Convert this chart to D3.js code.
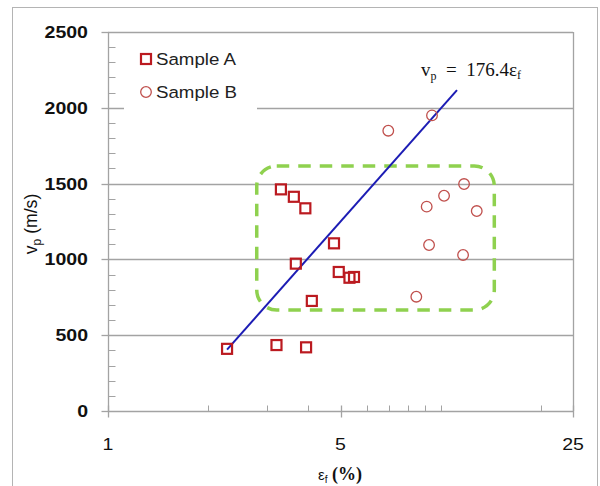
<!DOCTYPE html>
<html>
<head>
<meta charset="utf-8">
<script src="https://cdn.jsdelivr.net/npm/d3@7"></script>
<style>
  html, body { margin: 0; padding: 0; background: #fff; }
  svg { display: block; }
</style>
</head>
<body>
<svg id="chart" width="600" height="486"></svg>
<script>
// Fracture strain (%) versus P-wave velocity (m/s)
const sampleAStrain = [3.31, 3.62, 3.92, 4.78, 3.67, 4.94, 5.32, 5.49, 4.10, 2.28, 3.21, 3.94];
const sampleAVel    = [1462, 1413, 1337, 1106, 972, 917, 879, 884, 726, 410, 435, 420];
const sampleBStrain = [6.96, 9.42, 11.76, 10.24, 9.08, 12.84, 9.23, 11.68, 8.45];
const sampleBVel    = [1849, 1950, 1497, 1420, 1348, 1319, 1095, 1029, 754];

// fitted trend segment (end points)
const fitStrain = [2.28, 11.2];
const fitVel    = [405, 2117];

// highlighted cluster region (data units)
const boxStrain = [2.80, 14.5];
const boxVel    = [666, 1616];

const xTicks = [1, 5, 25];
const xMinorTicks = [2, 3, 4, 6, 7, 8, 9, 10, 20];
const yTicks = [0, 500, 1000, 1500, 2000, 2500];
const yMinorTicks = d3.range(100, 2500, 100).filter(v => v % 500 !== 0);

const svg = d3.select("#chart");
const plotLeft = 108, plotRight = 573, plotTop = 32, plotBottom = 411;

const x = d3.scaleLog().base(5).domain([1, 25]).range([plotLeft, plotRight]);
const y = d3.scaleLinear().domain([0, 2500]).range([plotBottom, plotTop]);

const grey = "#a3a3a3";
const stretch = 1.15;

// outer frame
svg.append("rect").attr("x", 12.5).attr("y", 7.5).attr("width", 585).attr("height", 490)
  .attr("fill", "#fff").attr("stroke", "#b4b4b4").attr("stroke-width", 1);

// horizontal grid lines
svg.append("g").selectAll("line").data(yTicks.filter(v => v > 0)).join("line")
  .attr("x1", plotLeft).attr("x2", plotRight)
  .attr("y1", d => Math.round(y(d)) + 0.5).attr("y2", d => Math.round(y(d)) + 0.5)
  .attr("stroke", grey).attr("stroke-width", 1.3);

// right border of plot area
svg.append("line").attr("x1", plotRight + 0.5).attr("x2", plotRight + 0.5)
  .attr("y1", plotTop).attr("y2", plotBottom).attr("stroke", grey).attr("stroke-width", 1.3);

// y axis
const yAxis = svg.append("g").attr("transform", `translate(${plotLeft + 0.5},0)`);
yAxis.append("line").attr("y1", plotTop).attr("y2", plotBottom).attr("stroke", grey).attr("stroke-width", 1.3);
yAxis.selectAll("line.maj").data(yTicks).join("line").attr("class", "maj")
  .attr("x1", -7).attr("x2", 0)
  .attr("y1", d => Math.round(y(d)) + 0.5).attr("y2", d => Math.round(y(d)) + 0.5)
  .attr("stroke", grey).attr("stroke-width", 1.3);
yAxis.selectAll("line.min").data(yMinorTicks).join("line").attr("class", "min")
  .attr("x1", 0).attr("x2", 7)
  .attr("y1", d => Math.round(y(d)) + 0.5).attr("y2", d => Math.round(y(d)) + 0.5)
  .attr("stroke", grey).attr("stroke-width", 1);

// x axis
const xAxis = svg.append("g").attr("transform", `translate(0,${plotBottom + 0.5})`);
xAxis.append("line").attr("x1", plotLeft).attr("x2", plotRight).attr("stroke", grey).attr("stroke-width", 1.3);
xAxis.selectAll("line.maj").data(xTicks).join("line").attr("class", "maj")
  .attr("x1", d => Math.round(x(d)) + 0.5).attr("x2", d => Math.round(x(d)) + 0.5)
  .attr("y1", -6).attr("y2", 6)
  .attr("stroke", grey).attr("stroke-width", 1.3);
xAxis.selectAll("line.min").data(xMinorTicks).join("line").attr("class", "min")
  .attr("x1", d => Math.round(x(d)) + 0.5).attr("x2", d => Math.round(x(d)) + 0.5)
  .attr("y1", -6).attr("y2", 0)
  .attr("stroke", grey).attr("stroke-width", 1);

// stretched text helper
function label(parent, tx, ty, txt, opts = {}) {
  const t = parent.append("text")
    .attr("transform", `translate(${tx},${ty}) scale(${opts.sx || stretch},1)`)
    .attr("text-anchor", opts.anchor || "start")
    .attr("font-family", opts.family || "Liberation Sans, Arial, sans-serif")
    .attr("font-size", opts.size || 17)
    .attr("font-weight", opts.weight || "normal")
    .attr("fill", opts.fill || "#111")
    .text(txt);
  return t;
}

yTicks.forEach(v => label(svg, 88, y(v) + 6, v, { anchor: "end", weight: "bold" }));
xTicks.forEach(v => label(svg, x(v), 450, v, { anchor: "middle" }));

// y axis title: v_p (m/s)
const yTitle = svg.append("text")
  .attr("transform", `translate(37,224) rotate(-90) scale(1.1,1.1)`)
  .attr("text-anchor", "middle")
  .attr("font-family", "Liberation Sans, Arial, sans-serif")
  .attr("font-size", 16).attr("fill", "#111");
yTitle.append("tspan").text("v");
yTitle.append("tspan").attr("font-size", 11).attr("dy", 4).text("p");
yTitle.append("tspan").attr("dy", -4).text(" (m/s)");

// x axis title: ε_f (%)
const xTitle = svg.append("text")
  .attr("transform", `translate(340,480)`)
  .attr("text-anchor", "middle").attr("fill", "#111");
xTitle.append("tspan").attr("font-family", "Liberation Sans, Arial, sans-serif").attr("font-size", 15).text("ε");
xTitle.append("tspan").attr("font-family", "Liberation Sans, Arial, sans-serif").attr("font-size", 10).attr("dy", 3).text("f");
xTitle.append("tspan").attr("font-family", "Liberation Serif, Times New Roman, serif")
  .attr("font-size", 18).attr("font-weight", "bold").attr("dy", -3).text(" (%)");

// highlighted cluster
svg.append("rect")
  .attr("x", x(boxStrain[0])).attr("y", y(boxVel[1]))
  .attr("width", x(boxStrain[1]) - x(boxStrain[0]))
  .attr("height", y(boxVel[0]) - y(boxVel[1]))
  .attr("rx", 20).attr("ry", 20)
  .attr("fill", "none").attr("stroke", "#8fd14f").attr("stroke-width", 3.5)
  .attr("stroke-dasharray", "12.5 9");

// fitted trend
svg.append("path")
  .datum(fitStrain.map((s, i) => [s, fitVel[i]]))
  .attr("d", d3.line().x(d => x(d[0])).y(d => y(d[1])))
  .attr("fill", "none").attr("stroke", "#1c1cb4").attr("stroke-width", 2);

// Sample A: squares
const sq = 10;
svg.append("g").selectAll("rect").data(sampleAStrain.map((s, i) => [s, sampleAVel[i]])).join("rect")
  .attr("x", d => x(d[0]) - sq / 2).attr("y", d => y(d[1]) - sq / 2)
  .attr("width", sq).attr("height", sq)
  .attr("fill", "none").attr("stroke", "#bb1a20").attr("stroke-width", 2.2);

// Sample B: circles
svg.append("g").selectAll("circle").data(sampleBStrain.map((s, i) => [s, sampleBVel[i]])).join("circle")
  .attr("cx", d => x(d[0])).attr("cy", d => y(d[1])).attr("r", 5.3)
  .attr("fill", "none").attr("stroke", "#c0504d").attr("stroke-width", 1.3);

// legend
const legend = svg.append("g");
legend.append("rect").attr("x", 124).attr("y", 42).attr("width", 133).attr("height", 70).attr("fill", "#fff");
legend.append("rect").attr("x", 141).attr("y", 54).attr("width", sq).attr("height", sq)
  .attr("fill", "none").attr("stroke", "#bb1a20").attr("stroke-width", 2.2);
legend.append("circle").attr("cx", 146).attr("cy", 92).attr("r", 5.3)
  .attr("fill", "none").attr("stroke", "#c0504d").attr("stroke-width", 1.3);
label(legend, 156, 65, "Sample A", { sx: 1.1, fill: "#222" });
label(legend, 156, 98, "Sample B", { sx: 1.1, fill: "#222" });

// equation
const eq = svg.append("text")
  .attr("transform", "translate(421,76)")
  .attr("font-family", "Liberation Serif, Times New Roman, serif")
  .attr("font-size", 19).attr("fill", "#111");
eq.append("tspan").text("v");
eq.append("tspan").attr("font-size", 12).attr("dy", 4).text("p");
eq.append("tspan").attr("dy", -4).attr("xml:space", "preserve").text("  =  176.4ε");
eq.append("tspan").attr("font-size", 12).attr("dy", 3).text("f");
</script>
</body>
</html>
